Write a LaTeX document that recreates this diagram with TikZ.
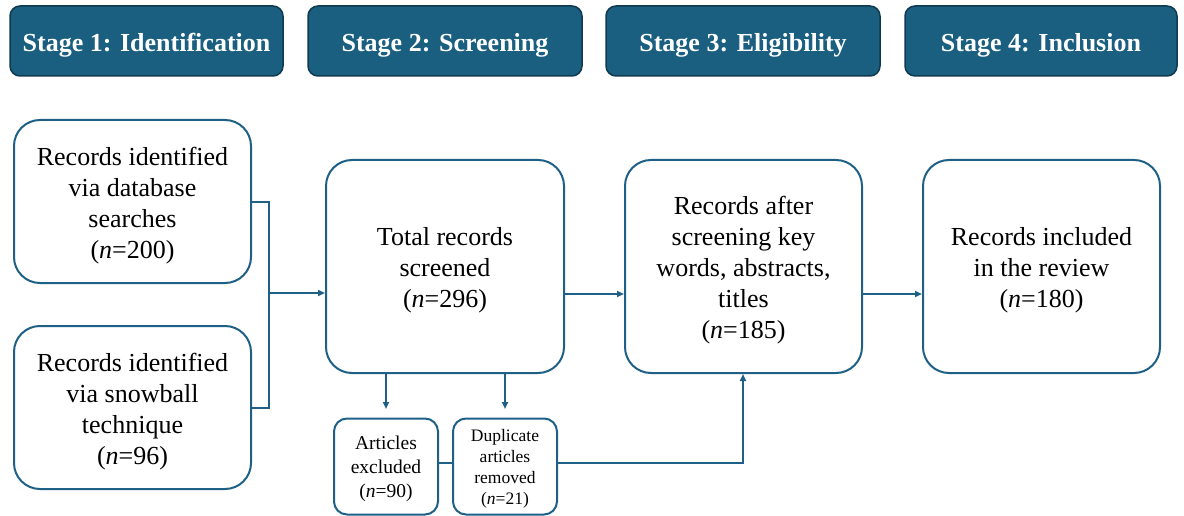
\documentclass[tikz,border=0pt]{standalone}
\usepackage{fontspec}
\setmainfont{Liberation Serif}
\usetikzlibrary{arrows.meta,calc}
\definecolor{hdr}{RGB}{26,94,128}
\definecolor{hdrline}{RGB}{16,58,80}
\definecolor{bline}{RGB}{30,96,134}
\newcommand{\topstrut}[1]{\rule{0pt}{#1}}
\tikzset{
  hdrbox/.style={draw=hdrline, line width=1.5pt, fill=hdr, rounded corners=10pt, text=white,
    font=\fontsize{26}{30}\selectfont\bfseries, minimum height=70pt, inner sep=0pt,
    text height=22pt, text depth=0pt},
  bigbox/.style={draw=bline, line width=2pt, rounded corners=26pt, align=center,
    font=\fontsize{26}{31}\selectfont, inner sep=0pt, minimum width=237pt},
  smallbox/.style={draw=bline, line width=2pt, rounded corners=13pt, align=center,
    inner sep=0pt, minimum width=104pt, minimum height=96pt},
  conn/.style={draw=bline, line width=2pt},
  arr/.style={conn, -{Triangle[length=7pt,width=6pt]}}
}
\begin{document}
\begin{tikzpicture}[x=1pt,y=-1pt]
\useasboundingbox (0,0) rectangle (1184,516);
% headers
\node[hdrbox, minimum width=273pt] (h1) at (146.5,41) {Stage 1: Identification};
\node[hdrbox, minimum width=274pt] (h2) at (445,41) {Stage 2: Screening};
\node[hdrbox, minimum width=274pt] (h3) at (743,41) {Stage 3: Eligibility};
\node[hdrbox, minimum width=272pt] (h4) at (1041,41) {Stage 4: Inclusion};
% boxes
\node[bigbox, minimum height=163pt] (a) at (132.5,201.5) {\topstrut{26pt}Records identified\\via database\\searches\\(\textit{n}=200)};
\node[bigbox, minimum height=163pt] (b) at (132.5,407.5) {\topstrut{26pt}Records identified\\via snowball\\technique\\(\textit{n}=96)};
\node[bigbox, minimum height=213pt, minimum width=238pt] (t) at (445,266.5) {\topstrut{26pt}Total records\\screened\\(\textit{n}=296)};
\node[bigbox, minimum height=213pt] (r) at (743.5,266.5) {\topstrut{26pt}Records after\\screening key\\words, abstracts,\\titles\\(\textit{n}=185)};
\node[bigbox, minimum height=213pt] (i) at (1041.5,266.5) {\topstrut{26pt}Records included\\in the review\\(\textit{n}=180)};
\node[smallbox, font=\fontsize{19.5}{24}\selectfont] (e) at (386,466.5) {\topstrut{19pt}Articles\\excluded\\(\textit{n}=90)};
\node[smallbox, font=\fontsize{17.5}{21}\selectfont] (d) at (505,466.5) {\topstrut{16pt}Duplicate\\articles\\removed\\(\textit{n}=21)};
% connectors
\coordinate (j1) at (269,201.5);
\coordinate (j2) at (269,407.5);
\coordinate (jm) at (269,293);
\draw[conn] (a.east) -- (j1) -- (j2) -- (b.east);
\draw[arr] (jm) -- (jm -| t.west);
\coordinate (tr) at (t.east |- 0,294);
\draw[arr] (tr) -- (tr -| r.west);
\coordinate (ri) at (r.east |- 0,294);
\draw[arr] (ri) -- (ri -| i.west);
\draw[arr] (t.south -| e.north) -- ++(0,35);
\draw[arr] (t.south -| d.north) -- ++(0,35);
\draw[conn] (e.east |- 0,463) -- (d.west |- 0,463);
\coordinate (dr) at (d.east |- 0,463);
\coordinate (up) at (743,463);
\draw[arr] (dr) -- (up) -- (up |- r.south);
\end{tikzpicture}
\end{document}
